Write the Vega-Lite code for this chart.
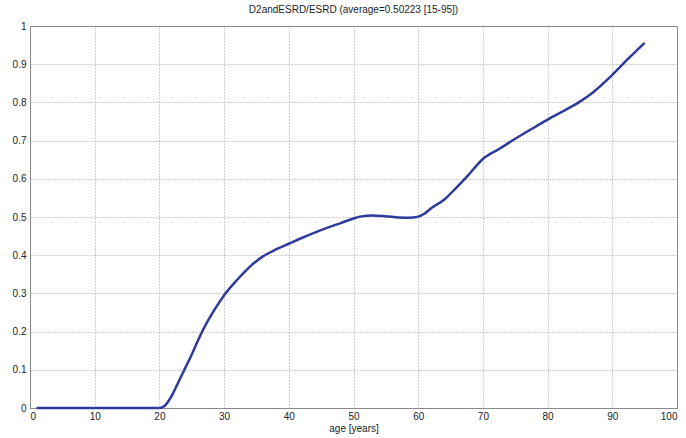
{
  "$schema": "https://vega.github.io/schema/vega-lite/v6.json",
  "width": 647,
  "height": 382,
  "autosize": {"type": "none"},
  "padding": {"left": 30, "top": 26, "right": 9, "bottom": 30},
  "background": "white",
  "title": {"text": "D2andESRD/ESRD (average=0.50223 [15-95])", "font": "Liberation Sans", "fontSize": 10, "fontWeight": "normal", "color": "#222", "offset": 6},
  "config": {
    "view": {"stroke": "#8a8a8a", "strokeWidth": 1},
    "axis": {
      "labelFont": "Liberation Sans", "labelFontSize": 10, "labelColor": "#222",
      "titleFont": "Liberation Sans", "titleFontSize": 10, "titleFontWeight": "normal", "titleColor": "#222",
      "domainColor": "#8a8a8a", "ticks": false,
      "gridColor": "#8a8a8a", "gridDash": [1, 2], "gridOpacity": 0.8
    }
  },
  "data": {"values": [
    {"age": 1, "v": 0}, {"age": 20, "v": 0}, {"age": 20.5, "v": 0.002}, {"age": 21, "v": 0.009},
    {"age": 22, "v": 0.035}, {"age": 23, "v": 0.07}, {"age": 24, "v": 0.105}, {"age": 25, "v": 0.14},
    {"age": 26, "v": 0.178}, {"age": 27, "v": 0.213}, {"age": 28, "v": 0.243}, {"age": 29, "v": 0.27},
    {"age": 30, "v": 0.295}, {"age": 32, "v": 0.335}, {"age": 34, "v": 0.37}, {"age": 36, "v": 0.397},
    {"age": 38, "v": 0.415}, {"age": 40, "v": 0.43}, {"age": 42, "v": 0.445}, {"age": 44, "v": 0.459},
    {"age": 46, "v": 0.472}, {"age": 48, "v": 0.484}, {"age": 50, "v": 0.496}, {"age": 51, "v": 0.501},
    {"age": 53, "v": 0.504}, {"age": 55, "v": 0.502}, {"age": 57, "v": 0.499}, {"age": 58.5, "v": 0.498},
    {"age": 60, "v": 0.501}, {"age": 61, "v": 0.509}, {"age": 62, "v": 0.523}, {"age": 64, "v": 0.545},
    {"age": 65.5, "v": 0.57}, {"age": 67.5, "v": 0.605}, {"age": 70, "v": 0.652}, {"age": 72.5, "v": 0.678},
    {"age": 75, "v": 0.705}, {"age": 78, "v": 0.735}, {"age": 80, "v": 0.755}, {"age": 82.5, "v": 0.778},
    {"age": 85, "v": 0.802}, {"age": 87, "v": 0.826}, {"age": 90, "v": 0.872}, {"age": 92.5, "v": 0.915},
    {"age": 95, "v": 0.956}
  ]},
  "mark": {"type": "line", "color": "#2e3a9c", "strokeWidth": 2.5, "interpolate": "monotone"},
  "encoding": {
    "x": {"field": "age", "type": "quantitative", "scale": {"domain": [0, 100], "nice": false},
      "axis": {"values": [0,10,20,30,40,50,60,70,80,90,100], "title": "age [years]", "titlePadding": 2, "labelPadding": 3}},
    "y": {"field": "v", "type": "quantitative", "scale": {"domain": [0, 1], "nice": false},
      "axis": {"values": [0,0.1,0.2,0.3,0.4,0.5,0.6,0.7,0.8,0.9,1], "format": "~g", "title": null, "labelPadding": 4}}
  }
}
